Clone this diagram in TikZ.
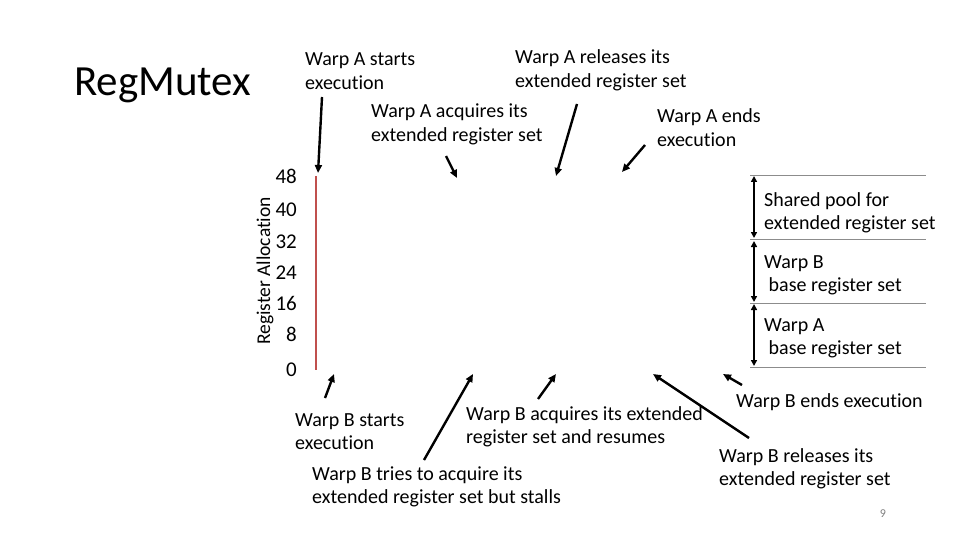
\documentclass[tikz,border=0pt]{standalone}
\usepackage{fontspec}
\setmainfont{Carlito}[Ligatures={NoCommon}]
\usetikzlibrary{arrows.meta}
\begin{document}
\begin{tikzpicture}[x=1pt,y=-1pt,
  txt/.style={font=\fontsize{20}{23.5}\selectfont, inner sep=0pt, align=left, anchor=base west},
  num/.style={font=\fontsize{21}{24}\selectfont, inner sep=0pt, anchor=base east},
  callout/.style={line width=2.4pt, -{Triangle[length=8pt,width=7pt]}},
  span/.style={line width=1.6pt, {Triangle[length=6pt,width=6pt]}-{Triangle[length=6pt,width=6pt]}},
  sep/.style={draw=black!45, line width=0.9pt},
  axisline/.style={draw={rgb,255:red,192;green,80;blue,77}, line width=1.2pt}]
\useasboundingbox (0,0) rectangle (960,540);
\fill[white] (0,0) rectangle (960,540);

% title
\node[inner sep=0pt, anchor=base west, font=\fontsize{43}{50}\selectfont] (title) at (74,96) {RegMutex};

% axis
\node[inner sep=0pt, rotate=90, font=\fontsize{19.5}{22}\selectfont] (ylabel) at (265,271) {Register Allocation};
\node[num] (n48) at (297,183) {48};
\node[num] (n40) at (297,216) {40};
\node[num] (n32) at (297,248) {32};
\node[num] (n24) at (297,279) {24};
\node[num] (n16) at (297,310) {16};
\node[num] (n8)  at (297,341) {8};
\node[num] (n0)  at (297,376) {0};
\coordinate (axtop) at (316,176);
\coordinate (axbot) at (316,370);
\draw[axisline] (axtop) -- (axbot);

% right legend
\coordinate (s1a) at (750,175); \coordinate (s1b) at (926,175);
\coordinate (s2a) at (750,239); \coordinate (s2b) at (926,239);
\coordinate (s3a) at (750,303); \coordinate (s3b) at (926,303);
\coordinate (s4a) at (750,367); \coordinate (s4b) at (926,367);
\draw[sep] (s1a) -- (s1b);
\draw[sep] (s2a) -- (s2b);
\draw[sep] (s3a) -- (s3b);
\draw[sep] (s4a) -- (s4b);
\coordinate (v1) at (754,176); \coordinate (v2) at (754,238);
\coordinate (v3) at (754,241); \coordinate (v4) at (754,302);
\coordinate (v5) at (754,304); \coordinate (v6) at (754,366);
\draw[span] (v1) -- (v2);
\draw[span] (v3) -- (v4);
\draw[span] (v5) -- (v6);
\node[txt] (pool) at (764,229.5) {Shared pool for\\extended register set};
\node[txt] (baseB) at (764,291.5) {Warp B\\\ base register set};
\node[txt] (baseA) at (764,354.5) {Warp A\\\ base register set};

% top labels
\node[txt] (aStart) at (305,89.5) {Warp A starts\\execution};
\node[txt] (aRel) at (515,87.5) {Warp A releases its\\extended register set};
\node[txt] (aAcq) at (371,141.5) {Warp A acquires its\\extended register set};
\node[txt] (aEnd) at (657,146.5) {Warp A ends\\execution};

% bottom labels
\node[txt] (bStart) at (295,449.5) {Warp B starts\\execution};
\node[txt] (bAcq) at (466,443.5) {Warp B acquires its extended\\register set and resumes};
\node[txt] (bTry) at (312,503.5) {Warp B tries to acquire its\\extended register set but stalls};
\node[txt] (bEnd) at (736,407) {Warp B ends execution};
\node[txt] (bRel) at (719,485.5) {Warp B releases its\\extended register set};

\node[inner sep=0pt, font=\fontsize{12}{14}\selectfont, text=black!50] (page) at (883,514) {9};

% callout arrows
\coordinate (aStartF) at (322,97);  \coordinate (aStartT) at (318,173);
\coordinate (aAcqF) at (446,156);   \coordinate (aAcqT) at (457,178);
\coordinate (aRelF) at (577,104);   \coordinate (aRelT) at (556,176);
\coordinate (aEndF) at (645,145);   \coordinate (aEndT) at (622,172);
\coordinate (bStartF) at (325,398); \coordinate (bStartT) at (334,374);
\coordinate (bTryF) at (424,460);   \coordinate (bTryT) at (473,374);
\coordinate (bAcqF) at (538,399);   \coordinate (bAcqT) at (556,374);
\coordinate (bRelF) at (749,438);   \coordinate (bRelT) at (653,374);
\coordinate (bEndF) at (742,385);   \coordinate (bEndT) at (723,374);
\draw[callout] (aStartF) -- (aStartT);
\draw[callout] (aAcqF) -- (aAcqT);
\draw[callout] (aRelF) -- (aRelT);
\draw[callout] (aEndF) -- (aEndT);
\draw[callout] (bStartF) -- (bStartT);
\draw[callout] (bTryF) -- (bTryT);
\draw[callout] (bAcqF) -- (bAcqT);
\draw[callout] (bRelF) -- (bRelT);
\draw[callout] (bEndF) -- (bEndT);
\end{tikzpicture}
\end{document}
